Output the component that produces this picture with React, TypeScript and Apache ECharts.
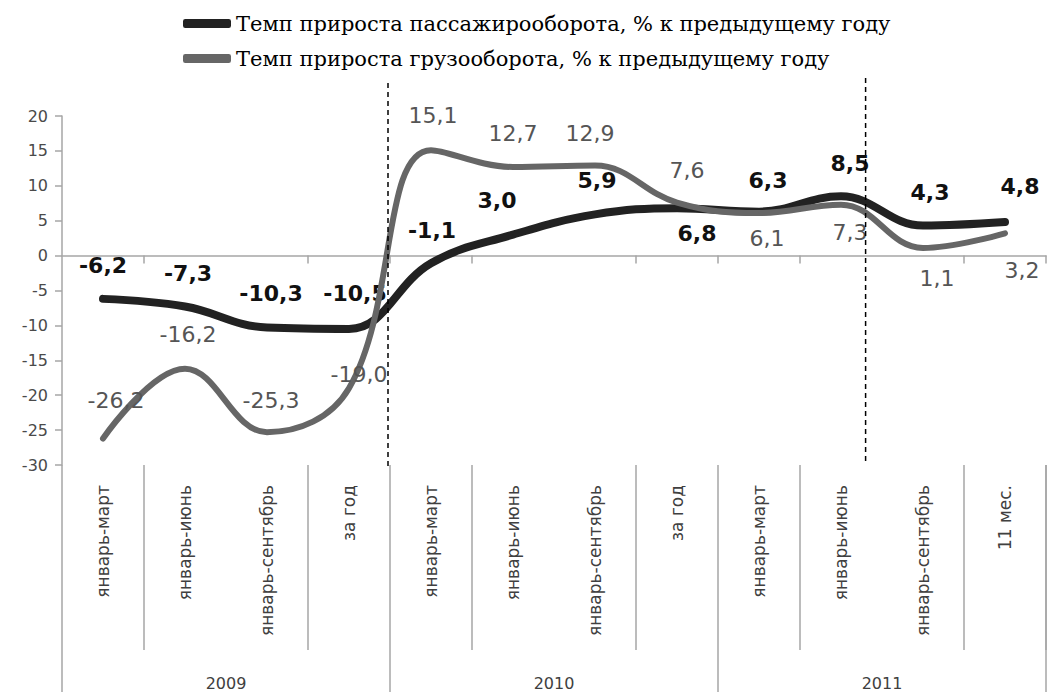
import React, { useEffect, useRef } from "react";
import * as echarts from "echarts";

const categories = [
  "январь-март", "январь-июнь", "январь-сентябрь", "за год",
  "январь-март", "январь-июнь", "январь-сентябрь", "за год",
  "январь-март", "январь-июнь", "январь-сентябрь", "11 мес.",
];
const years = ["2009", "2010", "2011"];
const passenger = [-6.2, -7.3, -10.3, -10.5, -1.1, 3.0, 5.9, 6.8, 6.3, 8.5, 4.3, 4.8];
const cargo = [-26.2, -16.2, -25.3, -19.0, 15.1, 12.7, 12.9, 7.6, 6.1, 7.3, 1.1, 3.2];
const yTicks = { min: -30, max: 20, interval: 5 };
const seriesNames = [
  "Темп прироста пассажирооборота, % к предыдущему году",
  "Темп прироста грузооборота, % к предыдущему году",
];

// label placement tweaks (pixel offsets from each point)
const passengerLabelOffsets = [[0, -33], [3, -33], [4, -34], [6, -35], [1, -33], [-16, -34], [2, -34], [20, 25], [9, -31], [9, -33], [7, -33], [15, -36]];
const cargoLabelOffsets = [[13, -38], [3, -34], [4, -32], [10, -14], [2, -35], [0, -33], [-5, -32], [10, -32], [8, 25], [9, 28], [14, 31], [17, 37]];

const fmt = (v: number) => v.toFixed(1).replace(".", ",");
const SANS = "DejaVu Sans";
const AXIS_GRAY = "#a6a6a6";

export default function App() {
  const ref = useRef<HTMLDivElement>(null);
  useEffect(() => {
    if (!ref.current) return;
    const chart = echarts.init(ref.current, undefined, { renderer: "svg" });
    const mkData = (vals: number[], offs: number[][]) =>
      vals.map((v, i) => ({ value: v, label: { offset: offs[i] } }));
    chart.setOption({
      animation: false,
      grid: { left: 62, right: 3, top: 116, bottom: 227, containLabel: false },
      legend: {
        orient: "vertical",
        left: 178,
        top: 8,
        itemWidth: 48,
        itemHeight: 9,
        itemGap: 14,
        icon: "roundRect",
        textStyle: { fontFamily: "DejaVu Serif", fontSize: 21, color: "#000" },
        data: seriesNames,
      },
      xAxis: [
        {
          type: "category",
          data: categories,
          boundaryGap: true,
          axisLine: { onZero: true, lineStyle: { color: AXIS_GRAY, width: 1.5 } },
          axisTick: {
            show: true,
            length: 8,
            interval: (i: number) => i % 2 === 1 || i === 4 || i === 8,
            lineStyle: { color: AXIS_GRAY, width: 1.5 },
          },
          axisLabel: { show: false },
        },
        {
          type: "category",
          data: categories,
          position: "bottom",
          boundaryGap: true,
          axisLine: { show: false, onZero: false },
          axisTick: {
            show: true,
            length: 185,
            interval: (i: number) => i % 2 === 1,
            lineStyle: { color: AXIS_GRAY, width: 1.5 },
          },
          axisLabel: {
            show: true,
            interval: 0,
            rotate: 90,
            margin: 20,
            fontFamily: SANS,
            fontSize: 17,
            color: "#404040",
          },
        },
        {
          type: "category",
          data: years,
          position: "bottom",
          boundaryGap: true,
          axisLine: { show: false, onZero: false },
          axisTick: {
            show: true,
            length: 227,
            interval: 0,
            lineStyle: { color: AXIS_GRAY, width: 1.5 },
          },
          axisLabel: {
            show: true,
            interval: 0,
            margin: 210,
            fontFamily: SANS,
            fontSize: 16,
            color: "#404040",
          },
        },
      ],
      yAxis: {
        type: "value",
        min: yTicks.min,
        max: yTicks.max,
        interval: yTicks.interval,
        splitLine: { show: false },
        axisLine: { show: true, lineStyle: { color: AXIS_GRAY, width: 1.5 } },
        axisTick: { show: true, length: 7, lineStyle: { color: AXIS_GRAY, width: 1.5 } },
        axisLabel: { fontFamily: SANS, fontSize: 16, color: "#4a4a4a", margin: 14 },
      },
      series: [
        {
          name: seriesNames[0],
          type: "line",
          smooth: 0.4,
          data: mkData(passenger, passengerLabelOffsets),
          symbol: "circle",
          symbolSize: 1,
          showSymbol: true,
          color: "#222222",
          lineStyle: { color: "#222222", width: 8, cap: "round" },
          itemStyle: { color: "#222222" },
          label: {
            show: true,
            position: "inside",
            formatter: (p: any) => fmt(p.value),
            fontFamily: SANS,
            fontWeight: "bold",
            fontSize: 22,
            color: "#111",
          },
          z: 3,
        },
        {
          name: seriesNames[1],
          type: "line",
          smooth: 0.4,
          data: mkData(cargo, cargoLabelOffsets),
          symbol: "circle",
          symbolSize: 1,
          showSymbol: true,
          color: "#666666",
          lineStyle: { color: "#666666", width: 6, cap: "round" },
          itemStyle: { color: "#666666" },
          label: {
            show: true,
            position: "inside",
            formatter: (p: any) => fmt(p.value),
            fontFamily: SANS,
            fontSize: 22,
            color: "#555555",
          },
          z: 4,
        },
      ],
    });

    const cx = (i: number) => chart.convertToPixel({ xAxisIndex: 0 }, i) as number;
    const cy = (v: number) => chart.convertToPixel({ yAxisIndex: 0 }, v) as number;
    const leftX = (cx(3) + cx(4)) / 2 - 2;
    const rightX = cx(9) + 0.3 * (cx(10) - cx(9));
    const topY = cy(yTicks.max);
    const botY = cy(yTicks.min);
    const dash = { stroke: "#000", lineWidth: 1.5, lineDash: [5, 4] };
    chart.setOption({
      graphic: [
        { type: "line", shape: { x1: leftX, y1: topY - 33, x2: leftX, y2: botY + 3 }, style: dash, z: 10 },
        { type: "line", shape: { x1: rightX, y1: topY - 38, x2: rightX, y2: botY }, style: dash, z: 10 },
      ],
    });

    return () => chart.dispose();
  }, []);
  return (
    <div
      ref={ref}
      style={{ position: "absolute", left: 0, top: 0, width: 1049, height: 692, background: "#fff" }}
    />
  );
}
